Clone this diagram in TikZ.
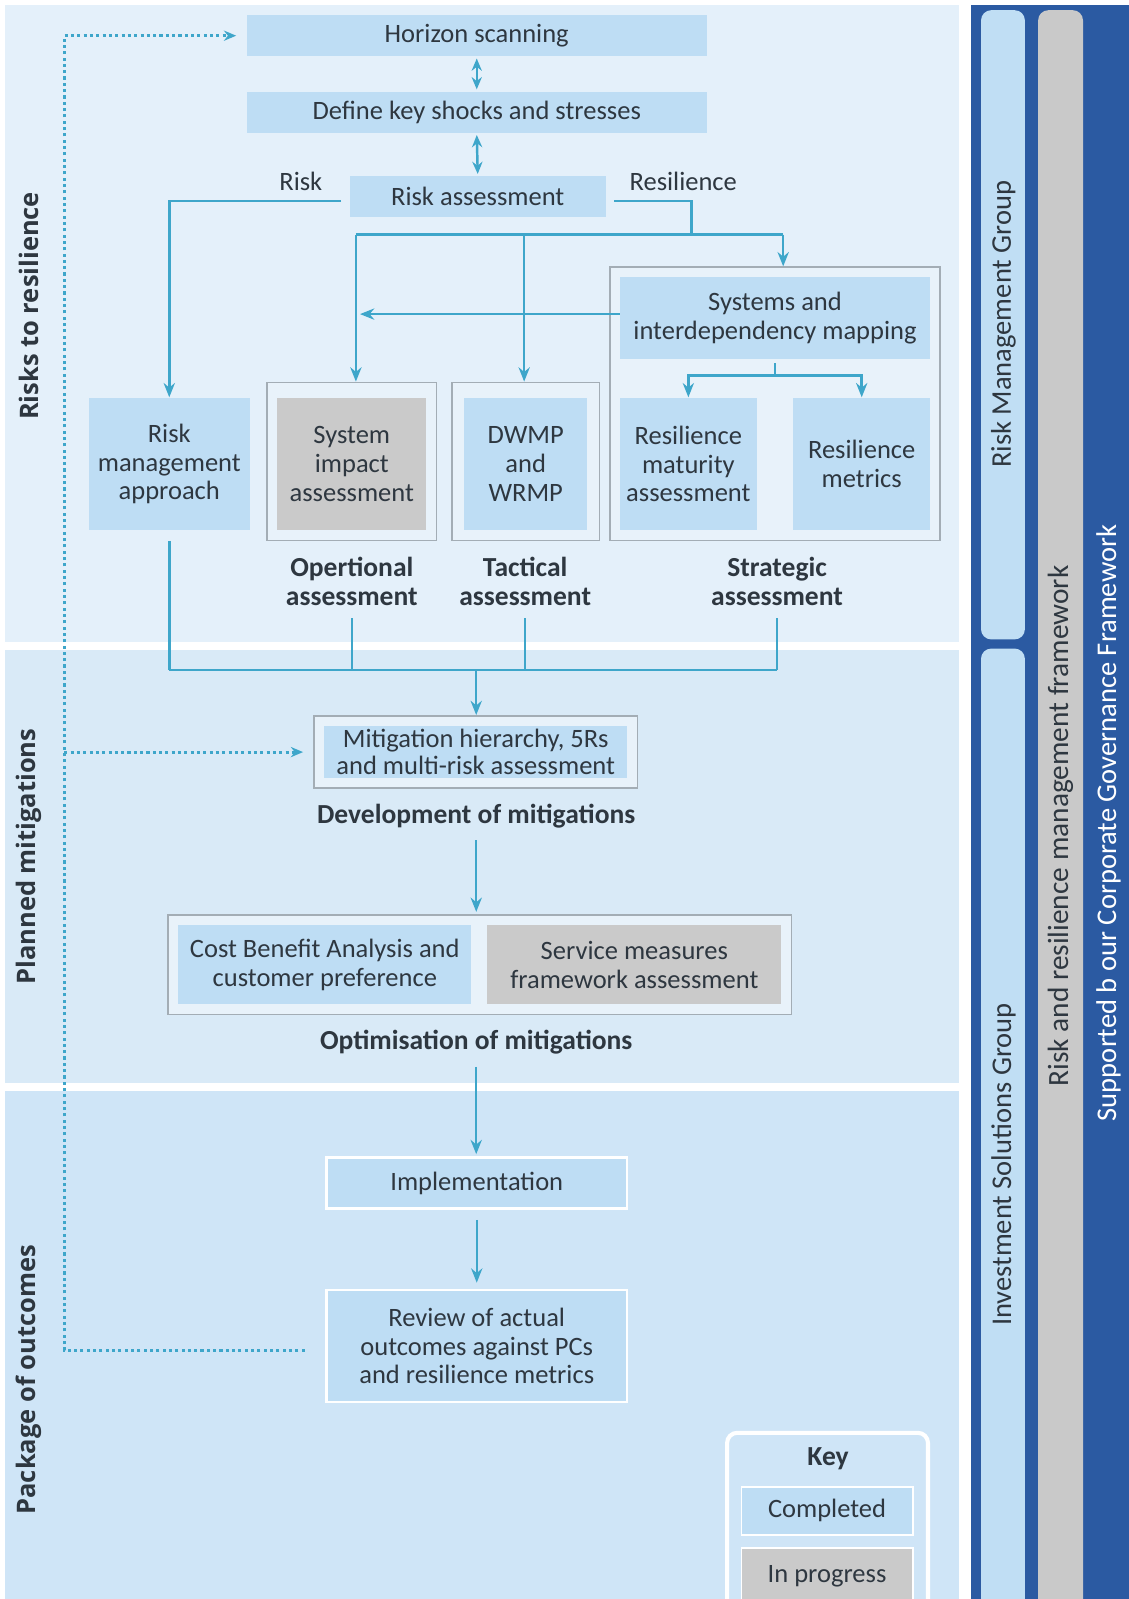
\documentclass[tikz,border=0pt]{standalone}
\usepackage{fontspec}
\setmainfont{Carlito}
\newfontfamily\sidefont{Open Sans}
\usetikzlibrary{arrows.meta}
\definecolor{panelA}{HTML}{E4F0FA}
\definecolor{panelB}{HTML}{D9EAF7}
\definecolor{panelC}{HTML}{CFE5F7}
\definecolor{boxblue}{HTML}{BEDDF4}
\definecolor{boxgray}{HTML}{CACACA}
\definecolor{outerfill}{HTML}{E8F2FA}
\definecolor{outerline}{HTML}{A3ADB5}
\definecolor{connc}{HTML}{3EA6CA}
\definecolor{txt}{HTML}{2E3740}
\definecolor{dblue}{HTML}{2B5AA2}
\definecolor{barblue}{HTML}{C0DEF4}
\definecolor{bargray}{HTML}{C9C9C9}
\tikzset{
  cbox/.style={fill=boxblue, text=txt, align=center, inner sep=0pt, font=\fontsize{13}{14}\selectfont},
  gbox/.style={cbox, fill=boxgray},
  wbox/.style={cbox, draw=white, line width=1.2pt},
  outerbox/.style={fill=outerfill, draw=outerline, line width=0.8pt, inner sep=0pt},
  lab/.style={text=txt, align=center, inner sep=1pt, font=\fontsize{13.5}{14.5}\selectfont\bfseries},
  plain/.style={text=txt, inner sep=1pt, font=\fontsize{13}{14}\selectfont},
  sidelab/.style={text=txt, rotate=90, inner sep=0pt, font=\sidefont\fontsize{12.5}{14}\selectfont\bfseries},
  barlab/.style={text=txt, rotate=90, inner sep=0pt, font=\fontsize{14}{16}\selectfont},
  cline/.style={draw=connc, line width=1.2pt},
  arr/.style={cline, -{Stealth[length=7pt,width=5.5pt]}},
  dbl/.style={cline, {Stealth[length=6pt,width=5pt]}-{Stealth[length=6pt,width=5pt]}},
  dotl/.style={draw=connc, line width=1.5pt, dash pattern=on 1.5pt off 1.6pt, -{Stealth[length=6pt,width=5pt]}}
}
\begin{document}
\begin{tikzpicture}[x=0.5pt,y=-0.5pt]
\useasboundingbox (0,0) rectangle (1107,1568);
\clip (0,0) rectangle (1107,1568);
\fill[white] (0,0) rectangle (1107,1568);
% panels
\fill[panelA] (5,5) rectangle (940,630);
\fill[panelB] (5,637) rectangle (940,1062);
\fill[panelC] (5,1070) rectangle (940,1580);
% right bars
\fill[dblue] (952,5) rectangle (1107,1580);
\fill[barblue, rounded corners=5pt] (962,10) rectangle (1005,627);
\fill[barblue, rounded corners=5pt] (962,636) rectangle (1005,1600);
\fill[bargray, rounded corners=5pt] (1018,10) rectangle (1062,1600);
\node[barlab] (rmgt) at (984,318) {Risk Management Group};
\node[barlab] (isgt) at (984,1142) {Investment Solutions Group};
\node[barlab, font=\fontsize{14.4}{16}\selectfont] (rrmt) at (1040,810) {Risk and resilience management framework};
\node[barlab, text=white] (cgft) at (1087,807) {Supported b our Corporate Governance Framework};
% side labels
\node[sidelab] (s1) at (28,300) {Risks to resilience};
\node[sidelab] (s2) at (28,840) {Planned mitigations};
\node[sidelab] (s3) at (28,1353) {Package of outcomes};
% top boxes
\node[cbox, minimum width=225.5pt, minimum height=20pt] (hs) at (467.5,35) {Horizon scanning};
\node[cbox, minimum width=225.5pt, minimum height=20pt] (dk) at (467.5,110) {Define key shocks and stresses};
\node[cbox, minimum width=125.5pt, minimum height=20pt] (ra) at (468.5,193) {Risk assessment};
\node[plain] (risklab) at (295,178) {Risk};
\node[plain] (reslab) at (670,178) {Resilience};
% outer groups
\node[outerbox, minimum width=83pt, minimum height=77.5pt] (opo) at (345,452.5) {};
\node[outerbox, minimum width=72.5pt, minimum height=77.5pt] (tco) at (515.5,452.5) {};
\node[outerbox, minimum width=162pt, minimum height=134pt] (sto) at (760,396) {};
% inner boxes
\node[cbox, minimum width=79pt, minimum height=65pt] (rma) at (166,455) {Risk\\management\\approach};
\node[gbox, minimum width=73pt, minimum height=65pt] (sia) at (345,455) {System\\impact\\assessment};
\node[cbox, minimum width=60.5pt, minimum height=65pt] (dw) at (515.5,455) {DWMP\\and\\WRMP};
\node[cbox, minimum width=152pt, minimum height=40pt] (sys) at (760,312) {Systems and\\interdependency mapping};
\node[cbox, minimum width=67pt, minimum height=65pt] (rmat) at (675,455) {Resilience\\maturity\\assessment};
\node[cbox, minimum width=67pt, minimum height=65pt] (rmet) at (845,455) {Resilience\\metrics};
% group labels
\node[lab] (oplab) at (345,570) {Opertional\\assessment};
\node[lab] (tclab) at (515,570) {Tactical\\assessment};
\node[lab] (stlab) at (762,570) {Strategic\\assessment};
% mitigations
\node[outerbox, minimum width=158.5pt, minimum height=35.5pt] (mito) at (466.5,737.5) {};
\node[cbox, minimum width=148.5pt, minimum height=25.5pt, font=\fontsize{13}{13}\selectfont] (mit) at (466.5,737.5) {Mitigation hierarchy, 5Rs\\and multi-risk assessment};
\node[lab] (devlab) at (467,800) {Development of mitigations};
\node[outerbox, minimum width=305.5pt, minimum height=49pt] (opto) at (470.5,946) {};
\node[cbox, minimum width=143.5pt, minimum height=39pt] (cba) at (318.5,946) {Cost Benefit Analysis and\\customer preference};
\node[gbox, minimum width=144pt, minimum height=39pt] (smf) at (622,946) {Service measures\\framework assessment};
\node[lab] (optlab) at (467,1022) {Optimisation of mitigations};
% outcomes
\node[wbox, minimum width=147.5pt, minimum height=25pt] (impl) at (467.5,1160) {Implementation};
\node[wbox, minimum width=147.5pt, minimum height=55pt] (rev) at (467.5,1320) {Review of actual\\outcomes against PCs\\and resilience metrics};
% key
\node[draw=white, line width=2pt, fill=panelC, rounded corners=5pt, minimum width=98.5pt, minimum height=90pt, inner sep=0pt] (keyb) at (811.5,1495) {};
\node[lab] (keyt) at (812,1430) {Key};
\node[cbox, draw=white, line width=0.8pt, minimum width=84pt, minimum height=23.5pt] (kc) at (811,1481.5) {Completed};
\node[gbox, draw=white, line width=0.8pt, minimum width=84pt, minimum height=28pt] (kp) at (811,1546) {In progress};
% coordinates
\coordinate (jl) at (349,230);
\coordinate (jt) at (514,230);
\coordinate (jr) at (768,230);
\coordinate (jres) at (678,230);
\coordinate (sj) at (760,368);
\coordinate (bus) at (467,657);
\coordinate (dtop) at (63,35);
% connectors
\draw[dbl, shorten <=1pt, shorten >=1pt] (hs.south) -- (dk.north);
\draw[dbl, shorten <=1pt, shorten >=1pt] (dk.south) -- (ra.north);
\draw[arr, shorten <=4pt] ([yshift=-2pt]ra.west) -| (rma.north);
\draw[cline, shorten <=4pt] ([yshift=-2pt]ra.east) -| (jres);
\draw[cline] (jl) -- (jr);
\draw[arr] (jl) -- (jl |- opo.north);
\draw[arr] (jt) -- (jt |- tco.north);
\draw[arr] (jr) -- (jr |- sto.north);
\draw[arr, shorten >=2pt] ([yshift=2pt]sys.west) -- ([yshift=2pt]sys.west -| jl);
\draw[cline, shorten <=2pt] (sys.south) -- (sj);
\draw[arr] (sj) -| (rmat.north);
\draw[arr] (sj) -| (rmet.north);
\draw[cline, shorten <=5pt] (rma.south) -- (rma.south |- bus);
\draw[cline, shorten <=5pt] (oplab.south) -- (oplab.south |- bus);
\draw[cline, shorten <=5pt] (tclab.south) -- (tclab.south |- bus);
\draw[cline, shorten <=5pt] (stlab.south) -- (stlab.south |- bus);
\draw[cline] (rma.south |- bus) -- (stlab.south |- bus);
\draw[arr] (bus) -- (bus |- mito.north);
\draw[arr, shorten <=5pt, shorten >=1pt] (devlab.south) -- (devlab.south |- opto.north);
\draw[arr, shorten <=5pt, shorten >=1pt] (optlab.south) -- (optlab.south |- impl.north);
\draw[arr, shorten <=5pt, shorten >=3pt] (impl.south) -- (rev.north);
\draw[dotl, shorten >=5pt] ([xshift=-10pt,yshift=-2pt]rev.west) -| (dtop) -- (hs.west);
\draw[dotl, shorten >=5pt] (dtop |- mito.west) -- (mito.west);
\end{tikzpicture}
\end{document}
